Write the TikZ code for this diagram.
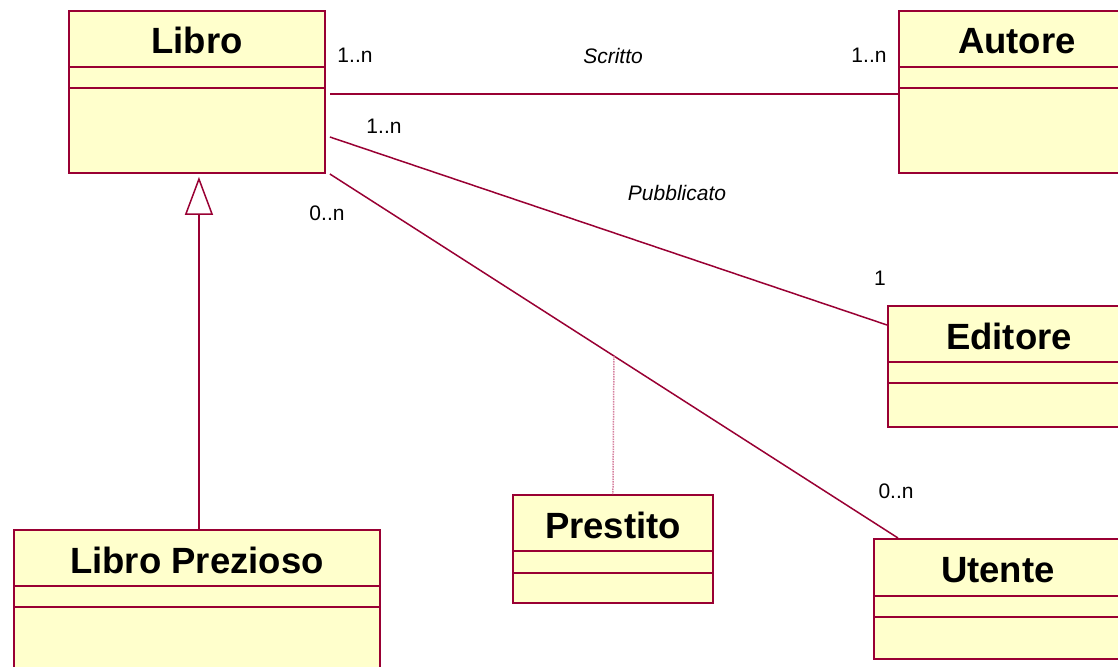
\documentclass[tikz,border=0pt]{standalone}
\usepackage{fontspec}
\setmainfont{Liberation Sans}
\usetikzlibrary{arrows.meta,calc}
\definecolor{umlborder}{RGB}{153,0,51}
\definecolor{umlfill}{RGB}{255,255,204}
\definecolor{linkdot}{RGB}{214,130,160}

% class box: id, x, y, width, height, first divider, second divider, name
\newcommand\umlclass[8]{%
  \node[classbox, minimum width=#4pt, minimum height=#5pt] (#1) at (#2,#3) {};
  \draw[compartment] ([yshift=-#6pt]#1.north west) -- ([yshift=-#6pt]#1.north east);
  \draw[compartment] ([yshift=-#7pt]#1.north west) -- ([yshift=-#7pt]#1.north east);
  \node[classname] (#1-name) at ([yshift=-44pt]#1.north) {#8};
}

\begin{document}
\begin{tikzpicture}[x=1pt,y=-1pt,
  classbox/.style={draw=umlborder, fill=umlfill, line width=1.9pt, inner sep=0pt, anchor=north west},
  compartment/.style={draw=umlborder, line width=1.5pt},
  classname/.style={font=\fontsize{36.5}{40}\selectfont\bfseries, anchor=base, inner sep=0pt},
  mult/.style={font=\fontsize{21}{24}\selectfont, inner sep=0pt},
  role/.style={font=\fontsize{21}{24}\selectfont\itshape, inner sep=0pt},
  assoc/.style={draw=umlborder, line width=1.5pt},
  linkline/.style={draw=linkdot, line width=1.5pt, dash pattern=on 1.5pt off 1pt}]
\useasboundingbox (0,0) rectangle (1118,666);
\clip (0,0) rectangle (1118,666);

\umlclass{libro}{68}{10}{256}{162}{57}{78}{Libro}
\umlclass{autore}{898}{10}{236}{162}{57}{78}{Autore}
\umlclass{editore}{887}{305}{242}{121}{57}{78}{Editore}
\umlclass{utente}{873}{538}{248}{120}{58}{79}{Utente}
\umlclass{libropr}{13}{529}{366}{160}{57}{78}{Libro Prezioso}
\umlclass{prestito}{512}{494}{200}{108}{57}{79}{Prestito}

% associations
\draw[assoc] ([shift={(4,84)}]libro.north east) -- ([yshift=-84pt]autore.north west);
\draw[assoc] ([shift={(4,127)}]libro.north east) -- ([yshift=-20pt]editore.north west);
\draw[assoc] ([shift={(4,164)}]libro.north east) -- coordinate[midway] (loanpt) ([xshift=25pt]utente.north west);

% association class link
\draw[linkline] (loanpt) -- (prestito.north);

% generalization
\draw[assoc, -{Triangle[open, length=38pt, width=28pt]}] ([xshift=2pt]libropr.north) -- ([shift={(2,3)}]libro.south);

% multiplicities and role names
\node[mult] (m1) at (355,55) {1..n};
\node[role] (r1) at (613,56) {Scritto};
\node[mult] (m2) at (869,55) {1..n};
\node[mult] (m3) at (384,126) {1..n};
\node[role] (r2) at (677,193) {Pubblicato};
\node[mult] (m4) at (880,278) {1};
\node[mult] (m5) at (327,213) {0..n};
\node[mult] (m6) at (896,491) {0..n};
\end{tikzpicture}
\end{document}
